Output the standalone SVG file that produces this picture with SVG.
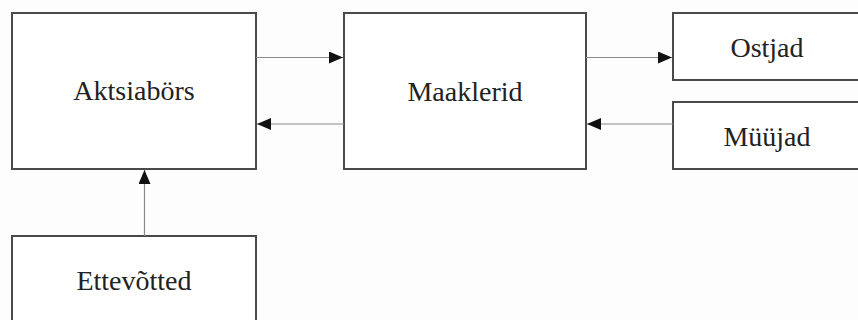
<svg xmlns="http://www.w3.org/2000/svg" width="858" height="320" viewBox="0 0 858 320">
<style>
.box{fill:#ffffff;stroke:#4a4a4a;stroke-width:2}
.lbl{font-family:"Liberation Serif","Times New Roman",serif;font-size:28px;fill:#222;text-anchor:middle}
.con{stroke:#8a8a8a;stroke-width:1.2;fill:none}
</style>
<defs>
<marker id="ah" markerWidth="14" markerHeight="12" refX="14" refY="6" orient="auto" markerUnits="userSpaceOnUse">
<path d="M0,0 L14,6 L0,12 Z" fill="#111"/>
</marker>
</defs>
<rect x="0" y="0" width="858" height="320" fill="#fdfdfd"/>
<g id="aktsiabors"><rect class="box" x="12" y="13" width="244" height="156"/><text class="lbl" x="134" y="100">Aktsiabörs</text></g>
<g id="maaklerid"><rect class="box" x="344" y="13" width="242" height="156"/><text class="lbl" x="465" y="101">Maaklerid</text></g>
<g id="ostjad"><rect class="box" x="673" y="13" width="190" height="67"/><text class="lbl" x="767" y="57">Ostjad</text></g>
<g id="muujad"><rect class="box" x="673" y="102" width="190" height="67"/><text class="lbl" x="767" y="146">Müüjad</text></g>
<g id="ettevotted"><rect class="box" x="12" y="236" width="244" height="100"/><text class="lbl" x="134" y="290">Ettevõtted</text></g>
<g id="connectors">
<line class="con" x1="256" y1="57.5" x2="343" y2="57.5" marker-end="url(#ah)"/>
<line class="con" x1="344" y1="124" x2="257" y2="124" marker-end="url(#ah)"/>
<line class="con" x1="586" y1="57.5" x2="672" y2="57.5" marker-end="url(#ah)"/>
<line class="con" x1="673" y1="124" x2="587" y2="124" marker-end="url(#ah)"/>
<line class="con" x1="144.5" y1="236" x2="144.5" y2="170" marker-end="url(#ah)"/>
</g>
</svg>
